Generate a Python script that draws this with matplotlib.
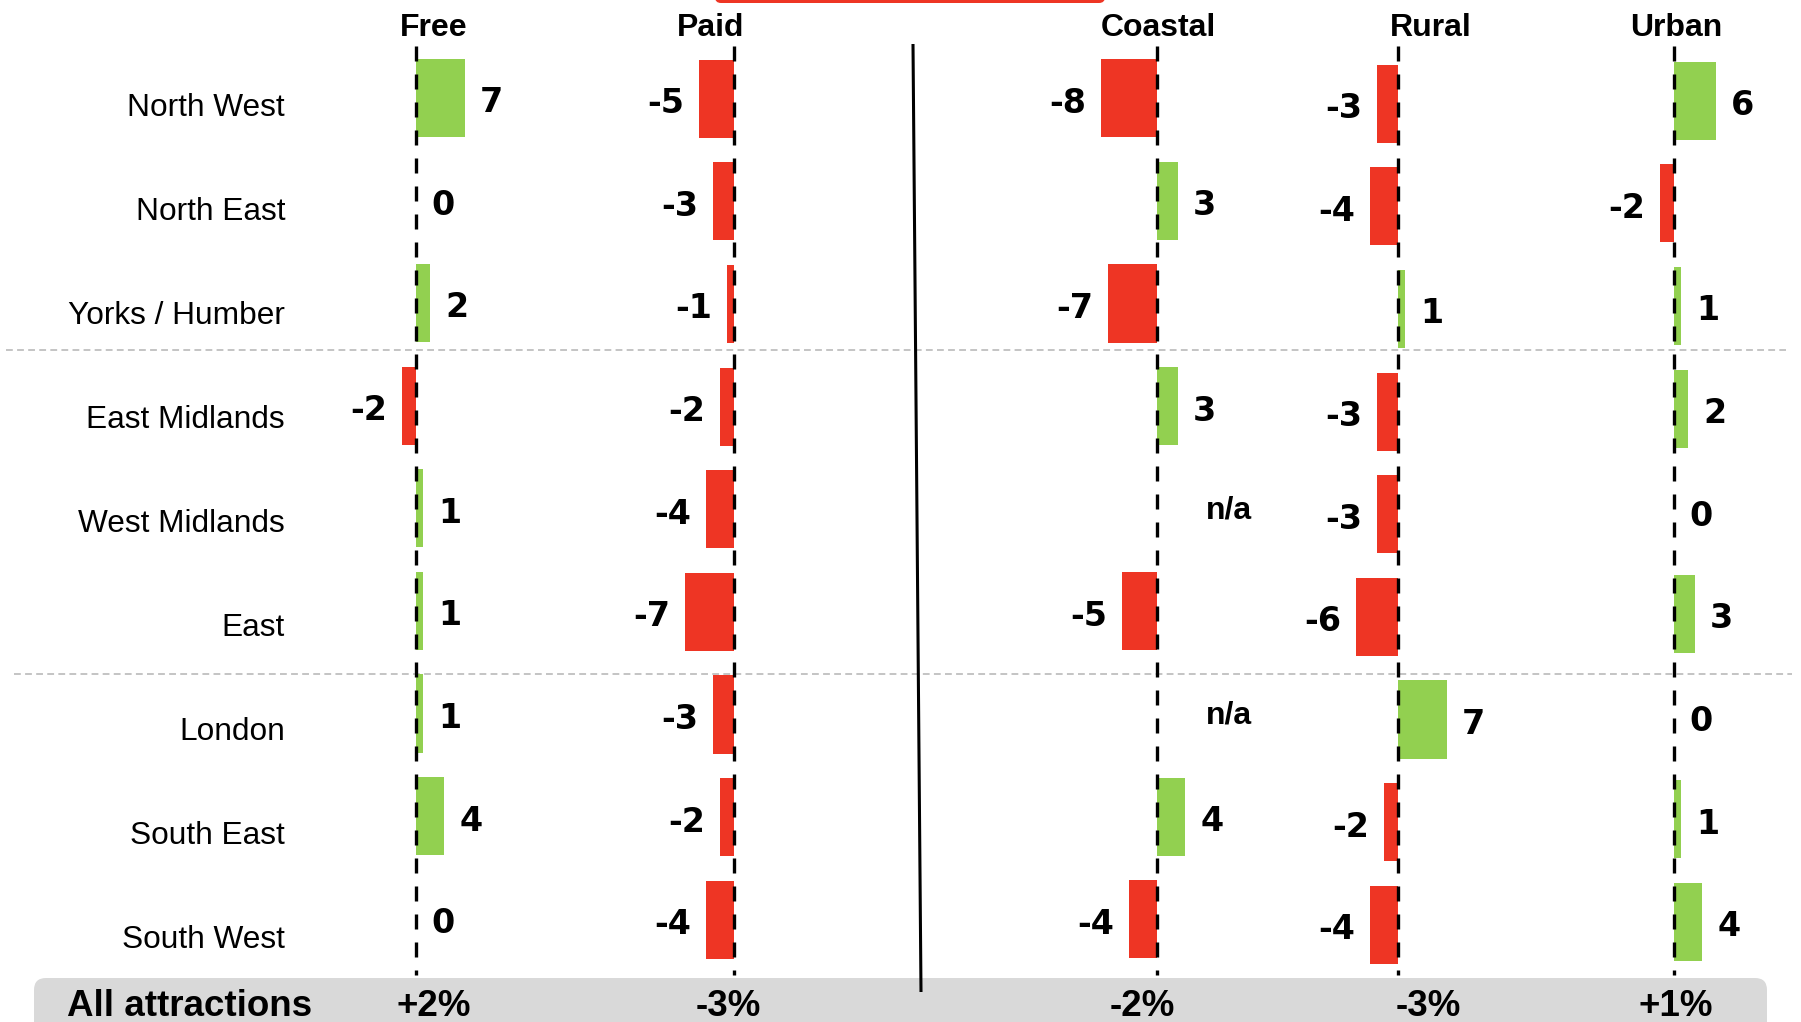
import matplotlib
matplotlib.use("Agg")
import matplotlib.pyplot as plt
from matplotlib.patches import FancyBboxPatch
import numpy as np

# ---- data -------------------------------------------------------------
regions = ["North West", "North East", "Yorks / Humber", "East Midlands",
           "West Midlands", "East", "London", "South East", "South West"]
columns = ["Free", "Paid", "Coastal", "Rural", "Urban"]
free = [7, 0, 2, -2, 1, 1, 1, 4, 0]
paid = [-5, -3, -1, -2, -4, -7, -3, -2, -4]
coastal = [-8, 3, -7, 3, None, -5, None, 4, -4]
rural = [-3, -4, 1, -3, -3, -6, 7, -2, -4]
urban = [6, -2, 1, 2, 0, 3, 0, 1, 4]
totals = ["+2%", "-3%", "-2%", "-3%", "+1%"]
series = [free, paid, coastal, rural, urban]

# ---- layout (pixels) --------------------------------------------------
W, H = 1801, 1022
zero_x = [416, 734, 1157, 1398, 1674]        # zero line of each panel
row_shift = [0, 1, 0.6, 6, 3]               # small vertical offset per panel
header_x = [434, 711, 1158, 1431, 1676]
total_x = [434, 728, 1142, 1428, 1676]
px_per_unit = 6.95
row_top = 97.6
row_step = 102.65
bar_h = 0.76

GREEN = "#92D050"
RED = "#EE3524"

fig = plt.figure(figsize=(W / 100, H / 100), dpi=100)
base = fig.add_axes([0, 0, 1, 1])
base.set_xlim(0, W)
base.set_ylim(H, 0)
base.axis("off")

arial = ["Liberation Sans", "DejaVu Sans"]

# red box peeking in at the top edge
base.add_patch(FancyBboxPatch((715, -40), 390, 43, boxstyle="round,pad=0,rounding_size=6",
                              fc=RED, ec="none", zorder=1))

# grey summary band
base.add_patch(FancyBboxPatch((34, 978), 1733, 80, boxstyle="round,pad=0,rounding_size=12",
                              fc="#D9D9D9", ec="none", zorder=1))

# light dashed group separators
base.plot([6, 1786], [350, 350], color="#C4C4C4", lw=1.4, ls=(0, (3.5, 2.2)), zorder=2)
base.plot([14, 1792], [674, 674], color="#C4C4C4", lw=1.4, ls=(0, (3.5, 2.2)), zorder=2)

# solid divider between the two groups of panels
base.plot([913, 921], [44, 992], color="black", lw=2.2, zorder=3,
          solid_capstyle="butt")

# region labels
for i, name in enumerate(regions):
    base.text(285, 116 + 103.95 * i, name, ha="right", va="baseline",
              fontsize=22.75, family=arial, color="black")

# column headers
for x, name in zip(header_x, columns):
    base.text(x, 36, name, ha="center", va="baseline", fontsize=23,
              fontweight="bold", family=arial)

# summary row
base.text(67, 1016, "All attractions", ha="left", va="baseline", fontsize=26.5,
          fontweight="bold", family=arial, zorder=4)
for x, t in zip(total_x, totals):
    base.text(x, 1016, t, ha="center", va="baseline", fontsize=26.5,
              fontweight="bold", family=arial, zorder=4)

# ---- panels -----------------------------------------------------------
dash_top, dash_bot = 46, 975
ypos = np.arange(len(regions))
lbl_dy = -10.5   # points: baseline sits just below the bar centre
for k, (vals, zx, dy) in enumerate(zip(series, zero_x, row_shift)):
    ax = fig.add_axes([0, 0, 1, 1])
    ax.patch.set_alpha(0)
    ax.axis("off")
    y0 = row_top + dy
    ax.set_xlim(-zx / px_per_unit, (W - zx) / px_per_unit)
    ax.set_ylim((H - y0) / row_step, -y0 / row_step)

    v = np.array([np.nan if val is None else val for val in vals], dtype=float)
    colors = [GREEN if (not np.isnan(x) and x > 0) else RED for x in v]
    ax.barh(ypos, np.nan_to_num(v), height=bar_h, color=colors, zorder=2)

    # dashed zero line
    ax.plot([0, 0], [(dash_top - y0) / row_step, (dash_bot - y0) / row_step],
            color="black", lw=2.4, ls=(0, (4.5, 3.9)), zorder=3)

    for i, val in enumerate(vals):
        if val is None:
            ax.annotate("n/a", (0, i), xytext=(35, -1), textcoords="offset points",
                        ha="left", va="center", fontsize=23, fontweight="bold",
                        family=arial)
        elif val >= 0:
            ax.annotate(f"{val}", (val, i), xytext=(11, lbl_dy), textcoords="offset points",
                        ha="left", va="baseline", fontsize=24, fontweight="bold",
                        family="DejaVu Sans")
        else:
            ax.annotate(f"{val}", (val, i), xytext=(-11, lbl_dy), textcoords="offset points",
                        ha="right", va="baseline", fontsize=24, fontweight="bold",
                        family="DejaVu Sans")

fig.savefig("out.png", dpi=100)
